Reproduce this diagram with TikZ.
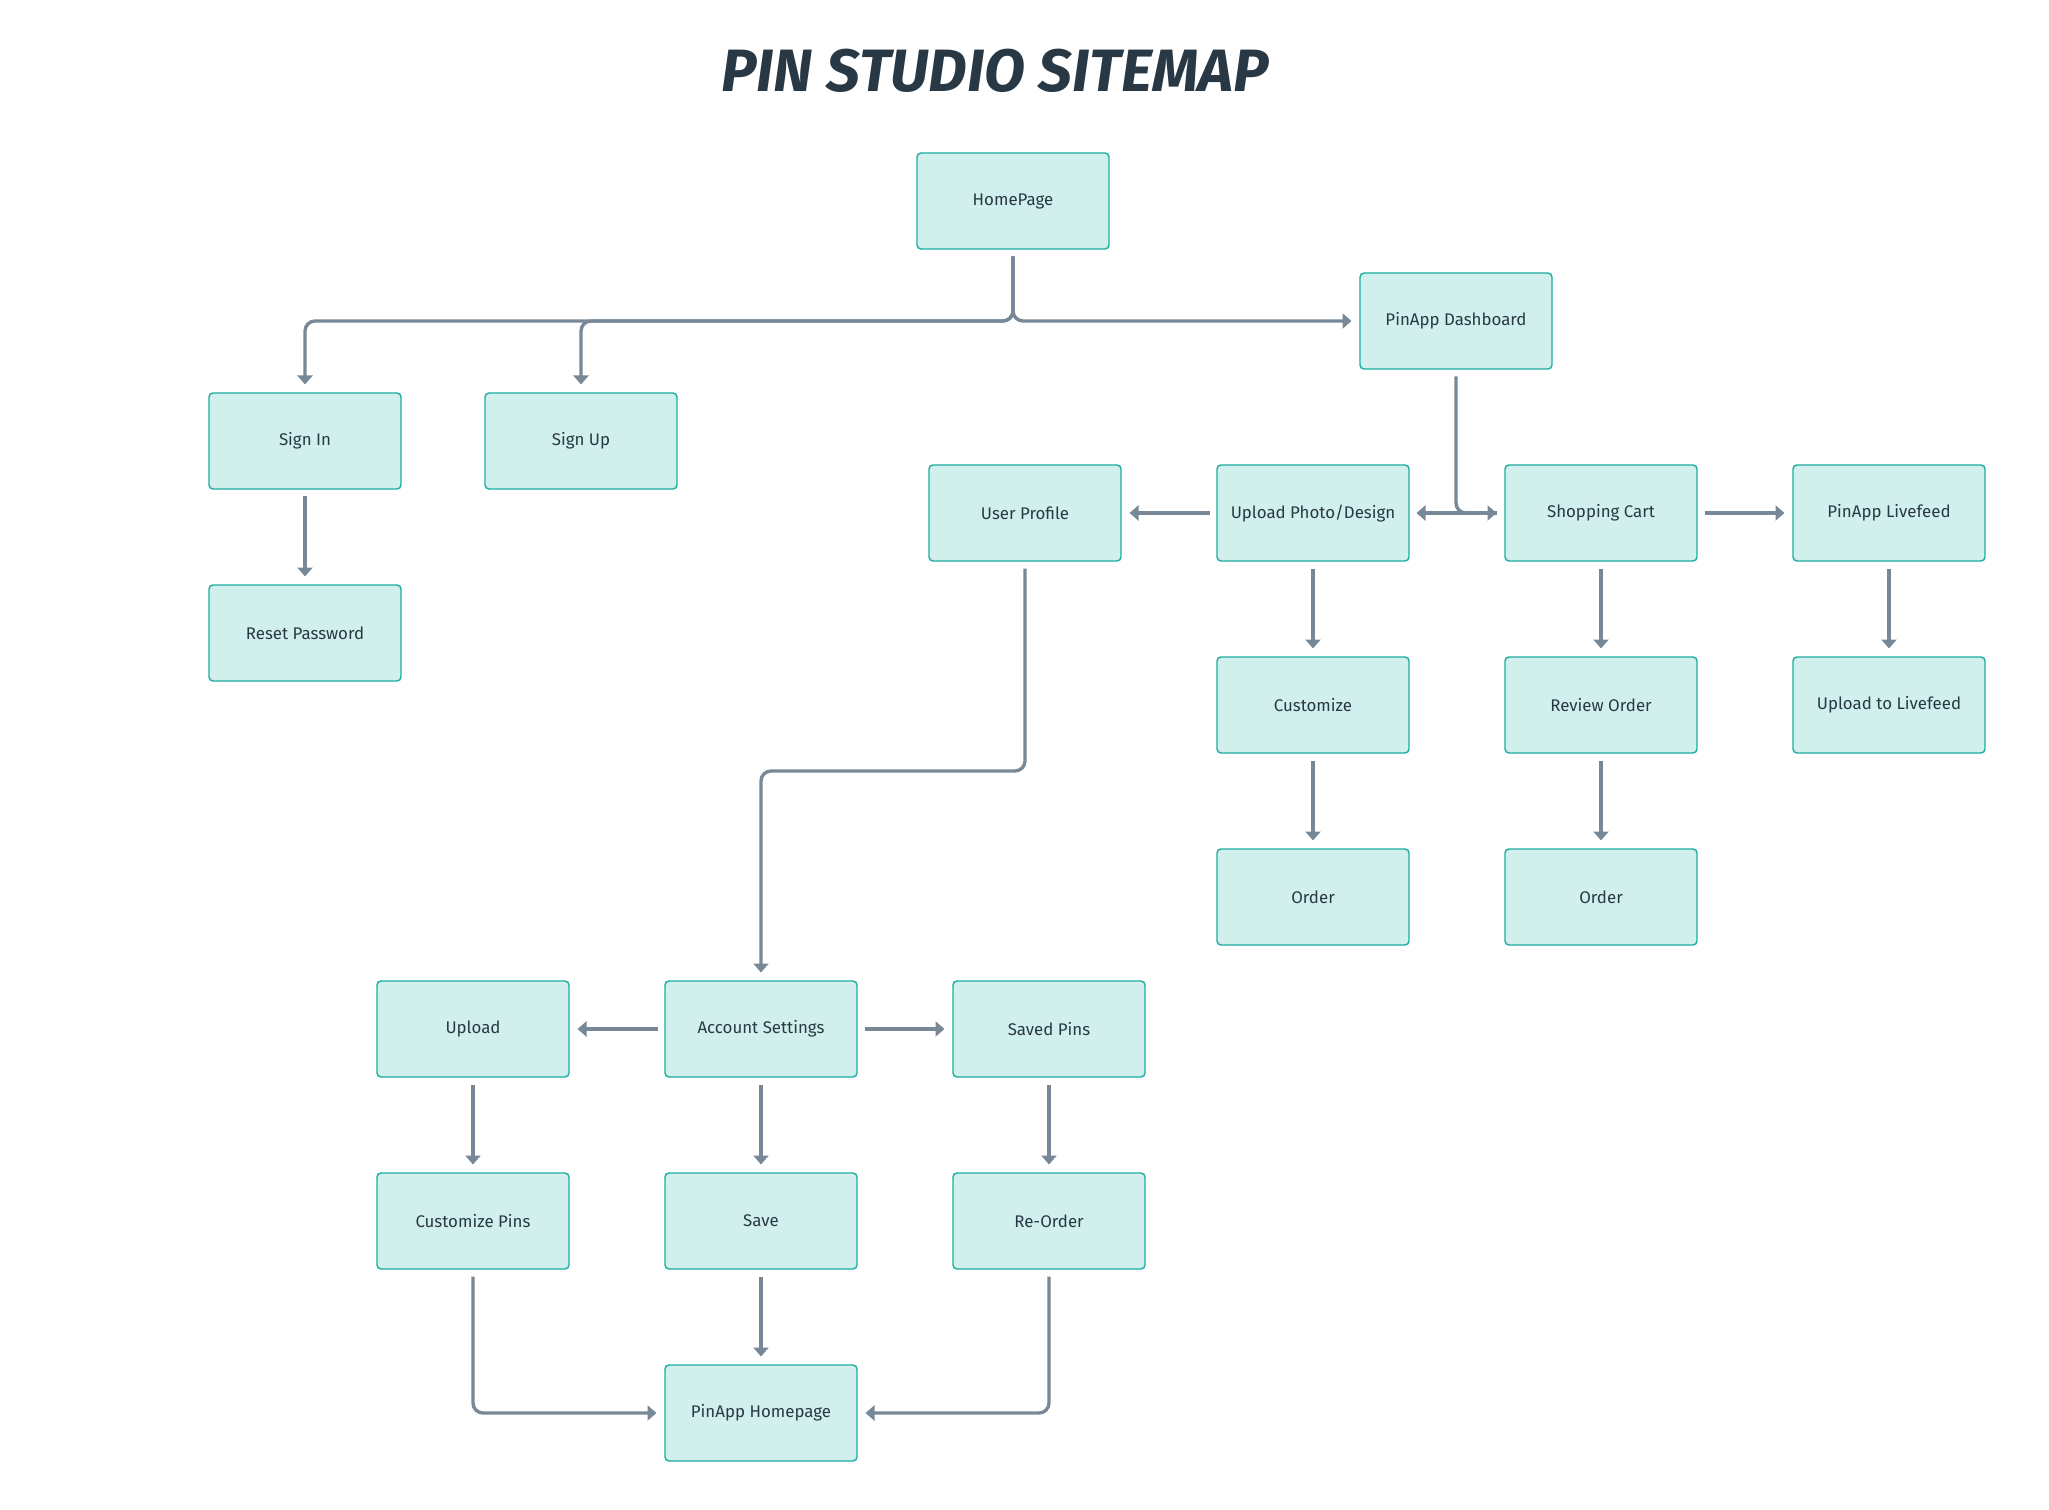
\documentclass[tikz,border=0pt]{standalone}
\usepackage{fontspec}
\setmainfont{Fira Sans}
\usetikzlibrary{positioning,arrows.meta,calc}
\definecolor{boxfill}{HTML}{D1EFEC}
\definecolor{boxline}{HTML}{1AAE9F}
\definecolor{inktext}{HTML}{293845}
\definecolor{linkgray}{HTML}{788896}

\begin{document}
\begin{tikzpicture}[
  node distance=1.92cm,
  page/.style={draw=boxline, fill=boxfill, line width=0.8pt, rounded corners=0.08cm,
    minimum width=3.84cm, minimum height=1.92cm, outer sep=0pt, text=inktext,
    font=\fontsize{9.6}{12}\selectfont},
  link/.style={draw=linkgray, line width=1.9pt, rounded corners=0.2cm,
    -{Triangle[length=0.18cm,width=0.3cm]}, shorten <=0.15cm, shorten >=0.17cm}]
  \fill[white] (0,0) rectangle (40.98,-30.2);
  \useasboundingbox (0,0) rectangle (40.98,-30.2);
  \node[text=inktext, font=\fontsize{34}{40}\selectfont\bfseries\itshape] (title) at (19.9,-1.41)
    {PIN STUDIO SITEMAP};
  % top level
  \node[page] (home) at (20.26,-4.02) {HomePage};
  \node[page] (dash) at (29.12,-6.42) {PinApp Dashboard};
  \node[page] (signin) at (6.10,-8.82) {Sign In};
  \node[page] (signup) at (11.62,-8.82) {Sign Up};
  \node[page, below=of signin] (reset) {Reset Password};
  % dashboard row
  \node[page] (profile) at (20.50,-10.26) {User Profile};
  \node[page, right=of profile] (design) {Upload Photo/Design};
  \node[page, right=of design] (cart) {Shopping Cart};
  \node[page, right=of cart] (feed) {PinApp Livefeed};
  \node[page, below=of design] (custom) {Customize};
  \node[page, below=of custom] (order) {Order};
  \node[page, below=of cart] (review) {Review Order};
  \node[page, below=of review] (reorder) {Order};
  \node[page, below=of feed] (feedup) {Upload to Livefeed};
  % account settings
  \node[page] (acct) at (15.22,-20.58) {Account Settings};
  \node[page, left=of acct] (upload) {Upload};
  \node[page, right=of acct] (saved) {Saved Pins};
  \node[page, below=of upload] (cpins) {Customize Pins};
  \node[page, below=of acct] (save) {Save};
  \node[page, below=of saved] (again) {Re-Order};
  \node[page, below=of save] (pinhome) {PinApp Homepage};

  \draw[link] (home.south) |- (dash.west);
  \draw[link] (home.south) -- (home.south |- dash.west) -| (signin.north);
  \draw[link] (home.south) -- (home.south |- dash.west) -| (signup.north);
  \draw[link] (signin) -- (reset);
  \draw[link] (dash.south) |- (cart.west);
  \draw[link, {Triangle[length=0.18cm,width=0.3cm]}-] (design) -- (cart);
  \draw[link] (design) -- (profile);
  \draw[link] (cart) -- (feed);
  \draw[link] (design) -- (custom);
  \draw[link] (custom) -- (order);
  \draw[link] (cart) -- (review);
  \draw[link] (review) -- (reorder);
  \draw[link] (feed) -- (feedup);
  \draw[link] (profile.south) -- ++(0,-4.2) -| (acct.north);
  \draw[link] (acct) -- (upload);
  \draw[link] (acct) -- (saved);
  \draw[link] (acct) -- (save);
  \draw[link] (upload) -- (cpins);
  \draw[link] (saved) -- (again);
  \draw[link] (save) -- (pinhome);
  \draw[link] (cpins.south) |- (pinhome.west);
  \draw[link] (again.south) |- (pinhome.east);
\end{tikzpicture}
\end{document}
